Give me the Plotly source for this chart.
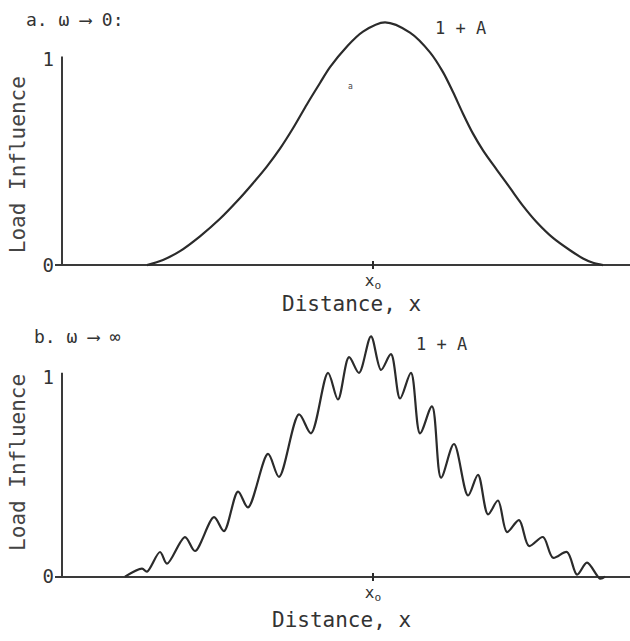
import plotly.graph_objects as go

# ---------------- data (distance measured from x0, load influence: 1 = nominal) ----------------
top_x = [-2.26, -2.10, -1.93, -1.73, -1.53, -1.36, -1.20, -1.06, -0.93, -0.80, -0.66, -0.53, -0.43,
         -0.26, -0.10, 0.12, 0.37, 0.57, 0.70, 0.80, 0.90, 1.00, 1.10, 1.24, 1.37, 1.50, 1.64,
         1.80, 1.97, 2.10, 2.20, 2.30]
top_y = [0.0, 0.025, 0.068, 0.140, 0.225, 0.310, 0.398, 0.480, 0.566, 0.665, 0.782, 0.885, 0.962,
         1.063, 1.135, 1.180, 1.130, 1.034, 0.938, 0.841, 0.736, 0.639, 0.558, 0.462, 0.375, 0.288, 0.207,
         0.132, 0.072, 0.032, 0.011, 0.0]

bot_x = [-2.48, -2.31, -2.26, -2.13, -2.06, -1.88, -1.78, -1.59, -1.49, -1.35, -1.25, -1.05, -0.94,
         -0.74, -0.62, -0.45, -0.35, -0.24, -0.14, -0.02, 0.08, 0.18, 0.27, 0.38, 0.47, 0.59, 0.68,
         0.81, 0.95, 1.05, 1.15, 1.25, 1.34, 1.46, 1.56, 1.70, 1.80, 1.94, 2.04, 2.14, 2.27, 2.32]
bot_y = [0.0, 0.040, 0.025, 0.124, 0.065, 0.199, 0.129, 0.299, 0.229, 0.428, 0.348, 0.617, 0.502,
         0.816, 0.721, 1.025, 0.891, 1.104, 1.025, 1.209, 1.040, 1.119, 0.896, 1.025, 0.721, 0.856, 0.498,
         0.667, 0.408, 0.512, 0.313, 0.383, 0.224, 0.284, 0.154, 0.199, 0.095, 0.124, 0.010, 0.070, -0.010, 0.0]

y_tick_vals = [0, 1]
y_tick_text = ["0", "1"]
x_tick_vals = [0]
x_tick_text = ["x<sub>o</sub>"]

panel_titles = ["a. ω ⟶ 0:", "b. ω ⟶ ∞"]
peak_label = "1 + A"
x_title = "Distance, x"
y_title = "Load Influence"

# ---------------- layout helpers ----------------
W, H = 630, 641
FONT = "DejaVu Sans Mono"
INK = "#2b2b2b"


def pyp(py):
    return 1 - py / H


x_range = [(55 - 373) / 100, (630 - 373) / 100]
x_dom = [55 / W, 1.0]

# panel pixel geometry: (domain top px, domain bottom px, baseline px, one px)
panels = [(12, 272, 268, 60), (330, 587, 583, 382)]

fig = go.Figure()

fig.add_trace(go.Scatter(x=top_x, y=top_y, mode="lines",
                         line=dict(color=INK, width=2.2, shape="spline", smoothing=0.9),
                         xaxis="x", yaxis="y", showlegend=False, hoverinfo="skip"))
fig.add_trace(go.Scatter(x=bot_x, y=bot_y, mode="lines",
                         line=dict(color=INK, width=2.2, shape="spline", smoothing=0.9),
                         xaxis="x2", yaxis="y2", showlegend=False, hoverinfo="skip"))

layout = dict(width=W, height=H, margin=dict(l=0, r=0, t=0, b=0),
              paper_bgcolor="white", plot_bgcolor="white",
              font=dict(family=FONT, color="#333"), showlegend=False)

axis_tops = [1.014, 1.025]
for i, (dt, db, base, one) in enumerate(panels):
    scale = base - one
    yr = [(base - db) / scale, (base - dt) / scale]
    xs = "" if i == 0 else "2"
    layout["xaxis" + xs] = dict(domain=x_dom, range=x_range, anchor="y" + xs,
                                showgrid=False, zeroline=False, showline=False,
                                tickvals=x_tick_vals, ticktext=x_tick_text,
                                ticks="inside", ticklen=8, tickwidth=1.5, tickcolor=INK,
                                tickfont=dict(family=FONT, size=16, color="#333"))
    layout["yaxis" + xs] = dict(domain=[pyp(db), pyp(dt)], range=yr, anchor="x" + xs,
                                showgrid=False, zeroline=True, zerolinecolor="#3a3a3a",
                                zerolinewidth=2, showline=False,
                                tickvals=y_tick_vals, ticktext=y_tick_text, ticks="",
                                tickfont=dict(family=FONT, size=19, color="#333"))
    # vertical axis line from 0 up to just above 1
    fig.add_shape(type="line", xref="x" + xs, yref="y" + xs,
                  x0=(62 - 373) / 100, x1=(62 - 373) / 100, y0=0, y1=axis_tops[i],
                  line=dict(color="#3a3a3a", width=2))

fig.update_layout(**layout)

ann = []
# panel titles
ann.append(dict(text=panel_titles[0], x=24 / W, y=pyp(20), xanchor="left", yanchor="middle",
                font=dict(size=18, color="#333")))
ann.append(dict(text=panel_titles[1], x=32 / W, y=pyp(340), xanchor="left", yanchor="middle",
                font=dict(size=18, color="#333")))
# peak labels
ann.append(dict(text=peak_label, x=461 / W, y=pyp(28), xanchor="center", yanchor="middle",
                font=dict(size=17, color="#333")))
ann.append(dict(text=peak_label, x=442 / W, y=pyp(348), xanchor="center", yanchor="middle",
                font=dict(size=17, color="#333")))
# x titles
ann.append(dict(text=x_title, x=351 / W, y=pyp(307), xanchor="center", yanchor="middle",
                font=dict(size=21, color="#333")))
ann.append(dict(text=x_title, x=341 / W, y=pyp(627), xanchor="center", yanchor="middle",
                font=dict(size=21, color="#333")))
# y titles
ann.append(dict(text=y_title, x=18 / W, y=pyp(167), xanchor="center", yanchor="middle",
                textangle=-90, font=dict(size=21, color="#444")))
ann.append(dict(text=y_title, x=18 / W, y=pyp(468), xanchor="center", yanchor="middle",
                textangle=-90, font=dict(size=21, color="#444")))
# small mark
ann.append(dict(text="a", x=350 / W, y=pyp(87), xanchor="center", yanchor="middle",
                font=dict(size=8, color="#444")))

for a in ann:
    a.update(xref="paper", yref="paper", showarrow=False)
fig.update_layout(annotations=ann)

fig.write_html("out.html")
